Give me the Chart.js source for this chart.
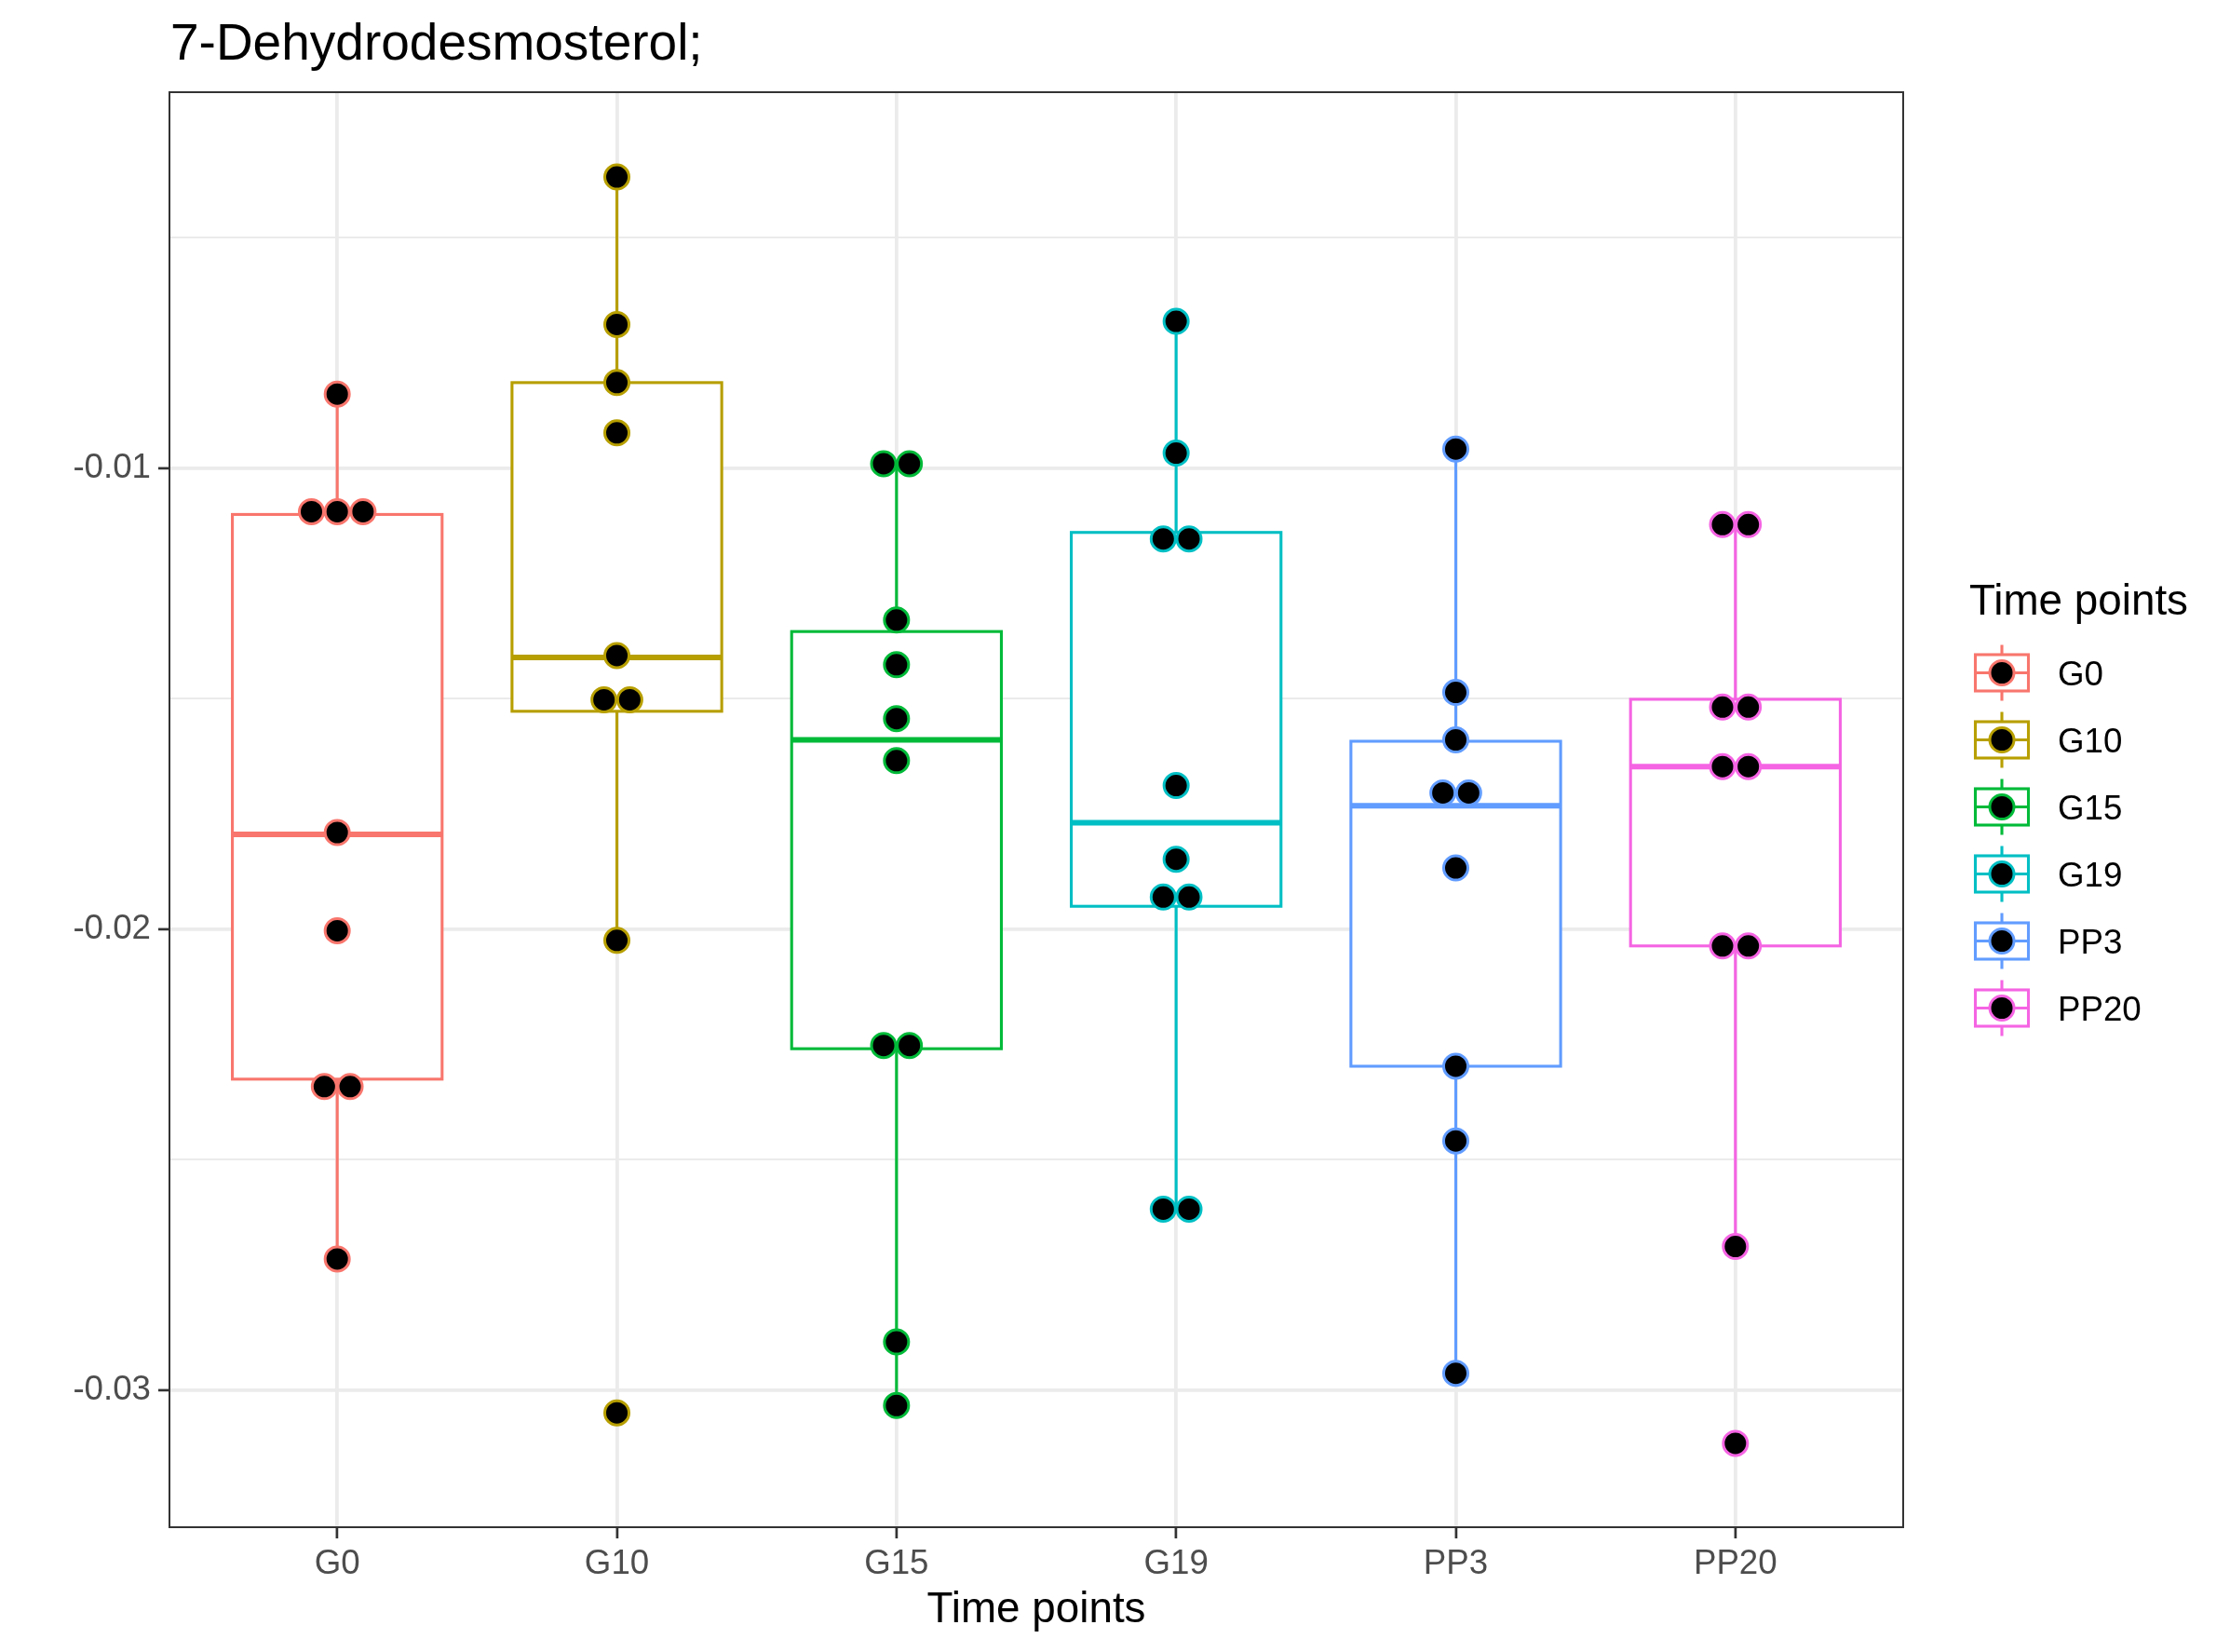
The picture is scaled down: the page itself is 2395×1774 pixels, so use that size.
<!DOCTYPE html>
<html>
<head>
<meta charset="utf-8">
<script src="https://cdn.jsdelivr.net/npm/chart.js@4.4.1/dist/chart.umd.min.js"></script>
<style>
  html, body { margin: 0; padding: 0; background: #ffffff; }
  canvas { display: block; }
</style>
</head>
<body>
<canvas id="chart" width="2395" height="1774"></canvas>
<script>
// ---------------- data ----------------
const chartTitle = '7-Dehydrodesmosterol;';
const xAxisTitle = 'Time points';
const legendTitle = 'Time points';
const categories = ['G0', 'G10', 'G15', 'G19', 'PP3', 'PP20'];
const groupColors = ['#F8766D', '#B79F00', '#00BA38', '#00BFC4', '#619CFF', '#F564E3'];

const valuesG0   = [-0.00840, -0.01095, -0.01095, -0.01095, -0.01791, -0.02004, -0.02342, -0.02342, -0.02716];
const valuesG10  = [-0.00369, -0.00689, -0.00815, -0.00924, -0.01407, -0.01503, -0.01503, -0.02025, -0.03050];
const valuesG15  = [-0.00991, -0.00991, -0.01330, -0.01427, -0.01544, -0.01635, -0.02253, -0.02253, -0.02896, -0.03034];
const valuesG19  = [-0.00682, -0.00968, -0.01154, -0.01154, -0.01689, -0.01849, -0.01931, -0.01931, -0.02608, -0.02608];
const valuesPP3  = [-0.00959, -0.01487, -0.01590, -0.01705, -0.01705, -0.01868, -0.02298, -0.02460, -0.02964];
const valuesPP20 = [-0.01123, -0.01123, -0.01519, -0.01519, -0.01648, -0.01648, -0.02037, -0.02037, -0.02689, -0.03116];

// box statistics (per category, same order as categories)
const boxQ1          = [-0.02326, -0.01528, -0.02260, -0.01951, -0.02298, -0.02037];
const boxMedian      = [-0.01795, -0.01411, -0.01590, -0.01770, -0.01733, -0.01648];
const boxQ3          = [-0.01101, -0.00815, -0.01355, -0.01140, -0.01593, -0.01502];
const boxWhiskerLow  = [-0.02716, -0.02025, -0.03034, -0.02608, -0.02964, -0.02689];
const boxWhiskerHigh = [-0.00840, -0.00369, -0.00991, -0.00682, -0.00959, -0.01123];

// axis ticks
const yMajorTicks = [-0.03, -0.02, -0.01];
const yTickLabels = ['-0.03', '-0.02', '-0.01'];
const yMinorTicks = [-0.025, -0.015, -0.005];
const yMin = -0.03298;
const yMax = -0.00185;

// ---------------- styling ----------------
const FONT = '"Liberation Sans", Arial, Helvetica, sans-serif';
Chart.defaults.font.family = FONT;
const allValues = [valuesG0, valuesG10, valuesG15, valuesG19, valuesPP3, valuesPP20];
const DOT_STEP = 0.0922;      // horizontal spacing of stacked dots, in category units
const BOX_HALF = 0.375;       // half box width, category units
const LINE_W = 3.1;
const MEDIAN_W = 6;

// dot-plot style stacking: equal values are spread side by side around the category centre
function stackedPoints(values, idx) {
  const counts = {};
  values.forEach(v => { counts[v] = (counts[v] || 0) + 1; });
  const seen = {};
  return values.map(v => {
    const n = counts[v];
    const k = seen[v] = (seen[v] === undefined ? 0 : seen[v] + 1);
    return { x: idx + (k - (n - 1) / 2) * DOT_STEP, y: v };
  });
}

const datasets = categories.map((name, i) => ({
  label: name,
  type: 'scatter',
  data: stackedPoints(allValues[i], i),
  pointRadius: 13,
  pointHoverRadius: 13,
  pointBorderWidth: 3,
  pointBackgroundColor: '#000000',
  pointBorderColor: groupColors[i],
  showLine: false
}));

const isMajorY = v => yMajorTicks.some(t => Math.abs(t - v) < 1e-9);

// boxes + whiskers drawn through the chart scales
const boxPlugin = {
  id: 'boxes',
  beforeDatasetsDraw(chart) {
    const { ctx, chartArea, scales: { x, y } } = chart;
    ctx.save();
    ctx.beginPath();
    ctx.rect(chartArea.left, chartArea.top, chartArea.right - chartArea.left, chartArea.bottom - chartArea.top);
    ctx.clip();
    categories.forEach((c, i) => {
      const xc = x.getPixelForValue(i);
      const xl = x.getPixelForValue(i - BOX_HALF);
      const xr = x.getPixelForValue(i + BOX_HALF);
      const yq1 = y.getPixelForValue(boxQ1[i]);
      const yq3 = y.getPixelForValue(boxQ3[i]);
      const ymed = y.getPixelForValue(boxMedian[i]);
      const ylo = y.getPixelForValue(boxWhiskerLow[i]);
      const yhi = y.getPixelForValue(boxWhiskerHigh[i]);
      ctx.strokeStyle = groupColors[i];
      ctx.lineWidth = LINE_W;
      ctx.lineCap = 'butt';
      ctx.beginPath();
      ctx.moveTo(xc, yq3); ctx.lineTo(xc, yhi);
      ctx.moveTo(xc, yq1); ctx.lineTo(xc, ylo);
      ctx.stroke();
      ctx.fillStyle = '#ffffff';
      ctx.fillRect(xl, yq3, xr - xl, yq1 - yq3);
      ctx.strokeRect(xl, yq3, xr - xl, yq1 - yq3);
      ctx.lineWidth = MEDIAN_W;
      ctx.beginPath();
      ctx.moveTo(xl, ymed); ctx.lineTo(xr, ymed);
      ctx.stroke();
    });
    ctx.restore();
  }
};

// panel border, title and legend
const decorPlugin = {
  id: 'decor',
  afterDraw(chart) {
    const { ctx, chartArea } = chart;
    ctx.save();
    // panel border
    ctx.strokeStyle = '#333333';
    ctx.lineWidth = 2;
    ctx.strokeRect(chartArea.left, chartArea.top, chartArea.right - chartArea.left, chartArea.bottom - chartArea.top);
    // title
    ctx.fillStyle = '#000000';
    ctx.textBaseline = 'alphabetic';
    ctx.textAlign = 'left';
    ctx.font = '55px ' + FONT;
    ctx.fillText(chartTitle, chartArea.left + 1, 64);
    // legend
    const lx = chartArea.right + 106;
    const ly0 = 722.5, ldy = 72;
    ctx.font = '45.8px ' + FONT;
    ctx.fillText(legendTitle, chartArea.right + 71, 660);
    ctx.font = '36.7px ' + FONT;
    categories.forEach((c, i) => {
      const cy = ly0 + i * ldy;
      ctx.strokeStyle = groupColors[i];
      ctx.lineWidth = LINE_W;
      ctx.beginPath();
      ctx.moveTo(lx, cy - 30); ctx.lineTo(lx, cy - 19.5);
      ctx.moveTo(lx, cy + 19.5); ctx.lineTo(lx, cy + 30);
      ctx.stroke();
      ctx.fillStyle = '#ffffff';
      ctx.fillRect(lx - 28.5, cy - 19.5, 57, 39);
      ctx.strokeRect(lx - 28.5, cy - 19.5, 57, 39);
      ctx.beginPath();
      ctx.moveTo(lx - 28.5, cy); ctx.lineTo(lx + 28.5, cy);
      ctx.stroke();
      ctx.beginPath();
      ctx.arc(lx, cy, 13, 0, Math.PI * 2);
      ctx.fillStyle = '#000000';
      ctx.fill();
      ctx.lineWidth = 3;
      ctx.stroke();
      ctx.fillStyle = '#000000';
      ctx.fillText(c, chartArea.right + 166, cy + 13);
    });
    ctx.restore();
  }
};

new Chart(document.getElementById('chart'), {
  type: 'scatter',
  data: { datasets },
  plugins: [boxPlugin, decorPlugin],
  options: {
    responsive: false,
    animation: false,
    devicePixelRatio: 1,
    events: [],
    layout: { padding: { left: 0, top: 99, right: 351, bottom: 0 } },
    plugins: {
      legend: { display: false },
      title: { display: false },
      tooltip: { enabled: false }
    },
    scales: {
      x: {
        type: 'linear',
        min: -0.6,
        max: categories.length - 0.4,
        afterBuildTicks: s => { s.ticks = categories.map((c, i) => ({ value: i })); },
        afterFit: s => { s.height = 134; },
        ticks: {
          callback: v => (categories[v] !== undefined ? categories[v] : ''),
          color: '#4D4D4D',
          font: { family: FONT, size: 36.7, lineHeight: 1.2 },
          padding: 6,
          maxRotation: 0,
          autoSkip: false
        },
        grid: {
          color: '#EBEBEB',
          lineWidth: 3.8,
          drawTicks: true,
          tickLength: 12,
          tickColor: '#333333',
          tickWidth: 2.7
        },
        border: { display: false },
        title: {
          display: true,
          text: xAxisTitle,
          color: '#000000',
          font: { family: FONT, size: 45.8, lineHeight: 1.2 },
          padding: { top: 0, bottom: 17 }
        }
      },
      y: {
        type: 'linear',
        min: yMin,
        max: yMax,
        afterBuildTicks: s => {
          s.ticks = yMajorTicks.concat(yMinorTicks).sort((a, b) => a - b).map(v => ({ value: v }));
        },
        afterFit: s => { s.width = 182; },
        ticks: {
          callback: v => {
            const idx = yMajorTicks.findIndex(t => Math.abs(t - v) < 1e-9);
            return idx >= 0 ? yTickLabels[idx] : '';
          },
          color: '#4D4D4D',
          font: { family: FONT, size: 36.7, lineHeight: 1.2 },
          padding: 8,
          autoSkip: false
        },
        grid: {
          color: '#EBEBEB',
          lineWidth: ctx => (ctx.tick && isMajorY(ctx.tick.value) ? 3.8 : 2),
          drawTicks: true,
          tickLength: 12,
          tickColor: ctx => (ctx.tick && isMajorY(ctx.tick.value) ? '#333333' : 'rgba(0,0,0,0)'),
          tickWidth: 2.7
        },
        border: { display: false }
      }
    }
  }
});
</script>
</body>
</html>
